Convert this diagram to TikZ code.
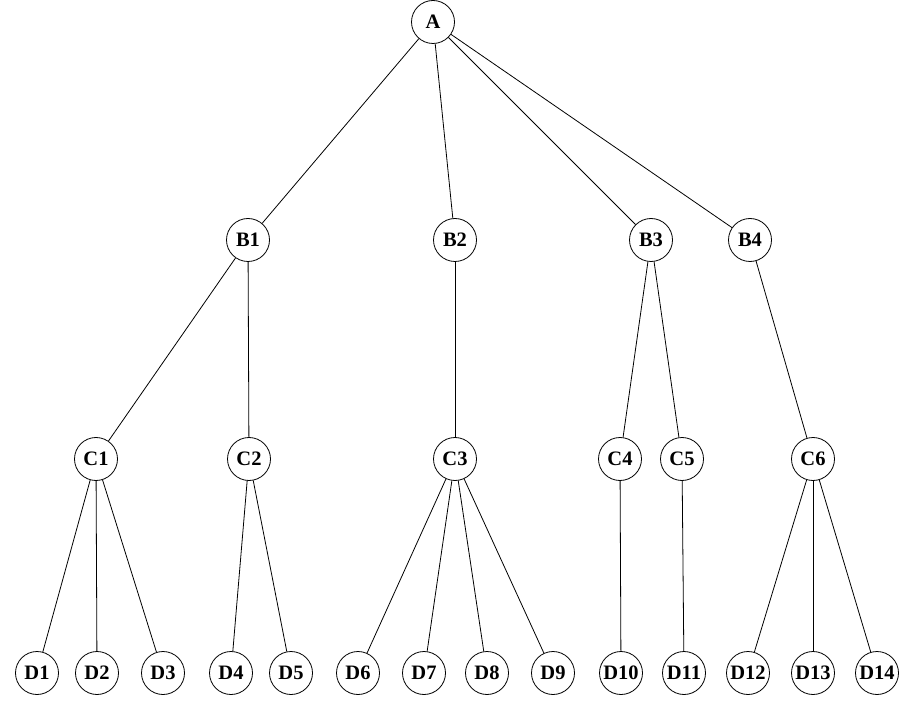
\documentclass[tikz,border=0pt]{standalone}
\usepackage{fontspec}
\setmainfont{Liberation Serif}
\usepackage{tikz}
\usetikzlibrary{positioning}
\begin{document}
\begin{tikzpicture}[x=1pt,y=-1pt,
  knoten/.style={circle,draw=black,line width=0.8pt,minimum size=43pt,inner sep=0pt,
    font=\fontsize{20.5}{21}\selectfont\bfseries},
  kante/.style={black,line width=0.8pt}]
\useasboundingbox (0,0) rectangle (908,703);
%Wurzel und Ebene B
\node[knoten] (A) at (433,22) {A};
\foreach \name/\xx in {B1/248,B2/455,B3/651,B4/750}{
\node[knoten] (\name) at (\xx,240) {\name};
}
%Ebene C
\foreach \name/\xx in {C1/96,C2/249,C3/455,C4/620,C5/682,C6/813}{
\node[knoten] (\name) at (\xx,459) {\name};
}
%Ebene D
\foreach \name/\xx in {D1/37,D2/97,D3/163,D4/231,D5/291,D6/358,D7/424,D8/487,D9/553,D10/621,D11/684,D12/748,D13/813,D14/877}{
\node[knoten] (\name) at (\xx,673) {\name};
}
%Kanten
\foreach \a/\b in {A/B1,A/B2,A/B3,A/B4,B1/C1,B1/C2,B2/C3,B3/C4,B3/C5,B4/C6,
  C1/D1,C1/D2,C1/D3,C2/D4,C2/D5,C3/D6,C3/D7,C3/D8,C3/D9,C4/D10,C5/D11,C6/D12,C6/D13,C6/D14}{
\draw[kante] (\a) -- (\b);
}
\end{tikzpicture}
\end{document}
